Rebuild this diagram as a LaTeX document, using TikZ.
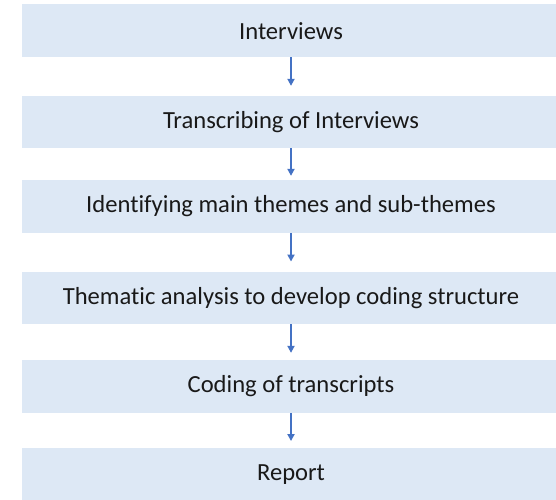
\documentclass[tikz,border=0pt]{standalone}
\usepackage{fontspec}
\setmainfont[Ligatures={NoCommon}]{Carlito}
\usetikzlibrary{arrows.meta}
\definecolor{boxblue}{RGB}{221,232,245}
\definecolor{arrowblue}{RGB}{68,114,196}
\tikzset{
  stepbox/.style={fill=boxblue,minimum width=538pt,minimum height=52.5pt,
    inner sep=0pt,text=black!90,font=\fontsize{24.6}{29}\selectfont},
  flow/.style={arrowblue,line width=1.9pt,-{Triangle[length=7pt,width=7pt]}}
}
\begin{document}
\begin{tikzpicture}[x=1pt,y=1pt]
\useasboundingbox (0,0) rectangle (556,499);
\clip (0,0) rectangle (556,499);
\node[stepbox] (interviews) at (291,468.25) {Interviews};
\node[stepbox] (transcribe) at (291,377) {Transcribing of Interviews};
\node[stepbox] (themes) at (291,292.7) {Identifying main themes and sub-themes};
\node[stepbox] (analysis) at (291,201) {Thematic analysis to develop coding structure};
\node[stepbox] (coding) at (291,112.7) {Coding of transcripts};
\node[stepbox] (report) at (291,24.5) {Report};
\draw[flow,shorten >=9.7pt] (interviews) -- (transcribe);
\draw[flow,shorten >=4pt] (transcribe) -- (themes);
\draw[flow,shorten >=10pt] (themes) -- (analysis);
\draw[flow,shorten >=7pt] (analysis) -- (coding);
\draw[flow,shorten >=7pt] (coding) -- (report);
\end{tikzpicture}
\end{document}
